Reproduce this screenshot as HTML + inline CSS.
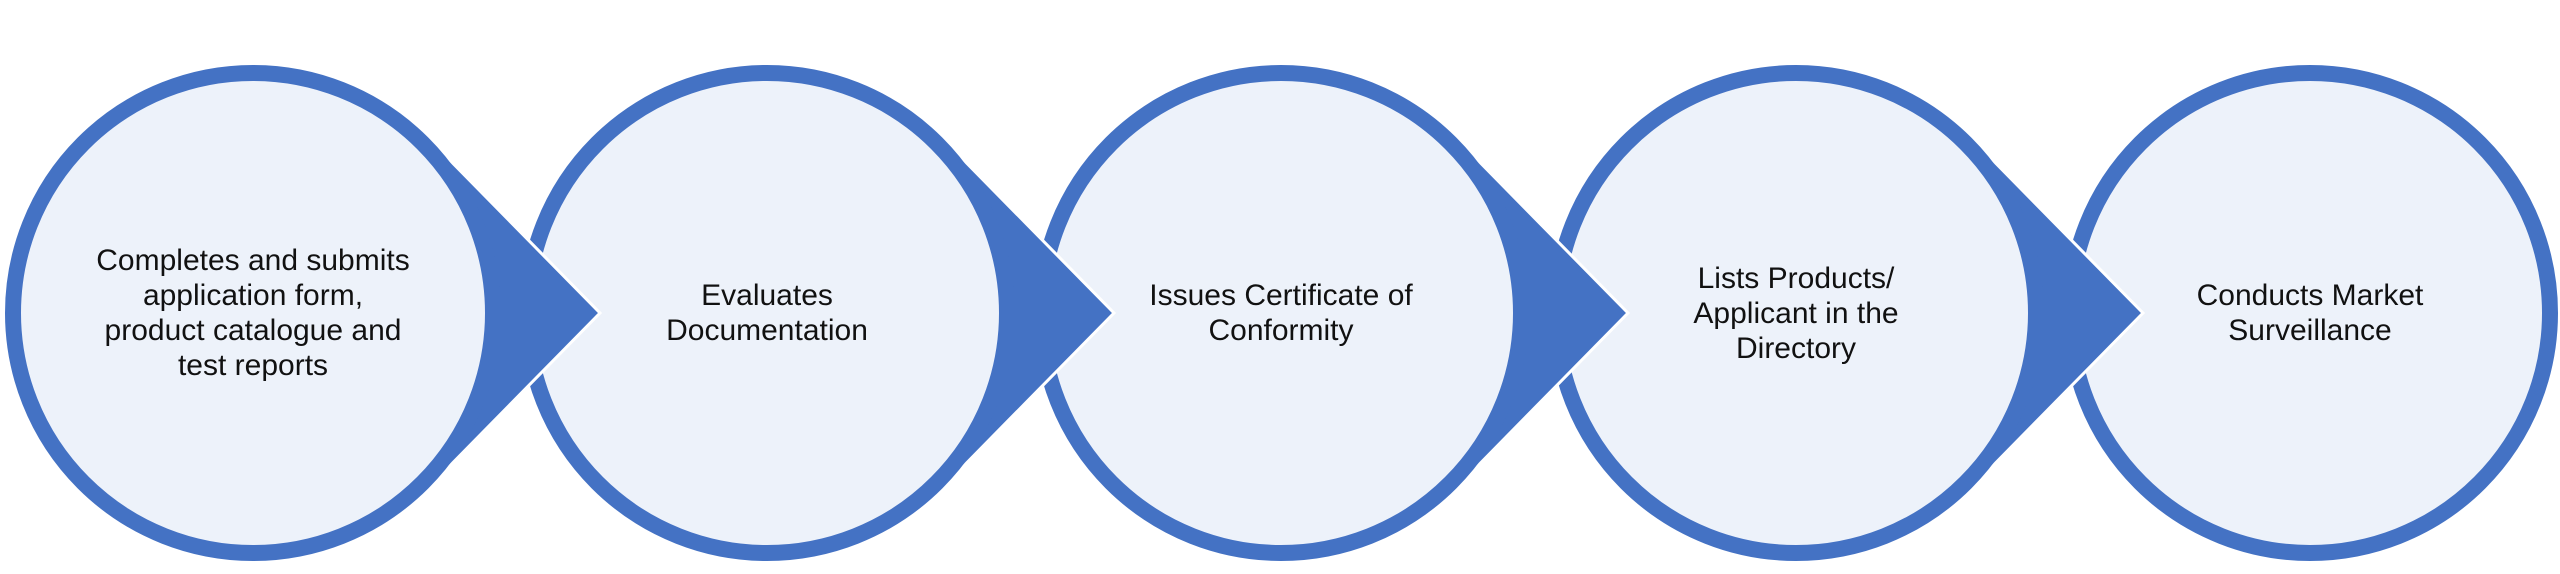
<!DOCTYPE html>
<html><head><meta charset="utf-8"><style>
html,body{margin:0;padding:0;background:#fff;}
svg{display:block;}
text{font-family:"Liberation Sans",Arial,sans-serif;font-size:30px;fill:#111;text-anchor:middle;}
</style></head><body>
<svg width="2560" height="574" viewBox="0 0 2560 574" xmlns="http://www.w3.org/2000/svg">
<circle cx="2310" cy="313" r="240" fill="#EDF2FA" stroke="#4472C4" stroke-width="16"/>

<polygon points="1796,313 1971,138 2143,313 1971,488" fill="#4472C4" stroke="#fff" stroke-width="3"/>
<circle cx="1796" cy="313" r="240" fill="#EDF2FA" stroke="#4472C4" stroke-width="16"/>

<polygon points="1281,313 1456,138 1628,313 1456,488" fill="#4472C4" stroke="#fff" stroke-width="3"/>
<circle cx="1281" cy="313" r="240" fill="#EDF2FA" stroke="#4472C4" stroke-width="16"/>

<polygon points="767,313 942,138 1114,313 942,488" fill="#4472C4" stroke="#fff" stroke-width="3"/>
<circle cx="767" cy="313" r="240" fill="#EDF2FA" stroke="#4472C4" stroke-width="16"/>

<polygon points="253,313 428,138 600,313 428,488" fill="#4472C4" stroke="#fff" stroke-width="3"/>
<circle cx="253" cy="313" r="240" fill="#EDF2FA" stroke="#4472C4" stroke-width="16"/>

<text x="253" y="270">Completes and submits</text>
<text x="253" y="305">application form,</text>
<text x="253" y="340">product catalogue and</text>
<text x="253" y="375">test reports</text>

<text x="767" y="305">Evaluates</text>
<text x="767" y="340">Documentation</text>

<text x="1281" y="305">Issues Certificate of</text>
<text x="1281" y="340">Conformity</text>

<text x="1796" y="288">Lists Products/</text>
<text x="1796" y="323">Applicant in the</text>
<text x="1796" y="358">Directory</text>

<text x="2310" y="305">Conducts Market</text>
<text x="2310" y="340">Surveillance</text>
</svg>
</body></html>
